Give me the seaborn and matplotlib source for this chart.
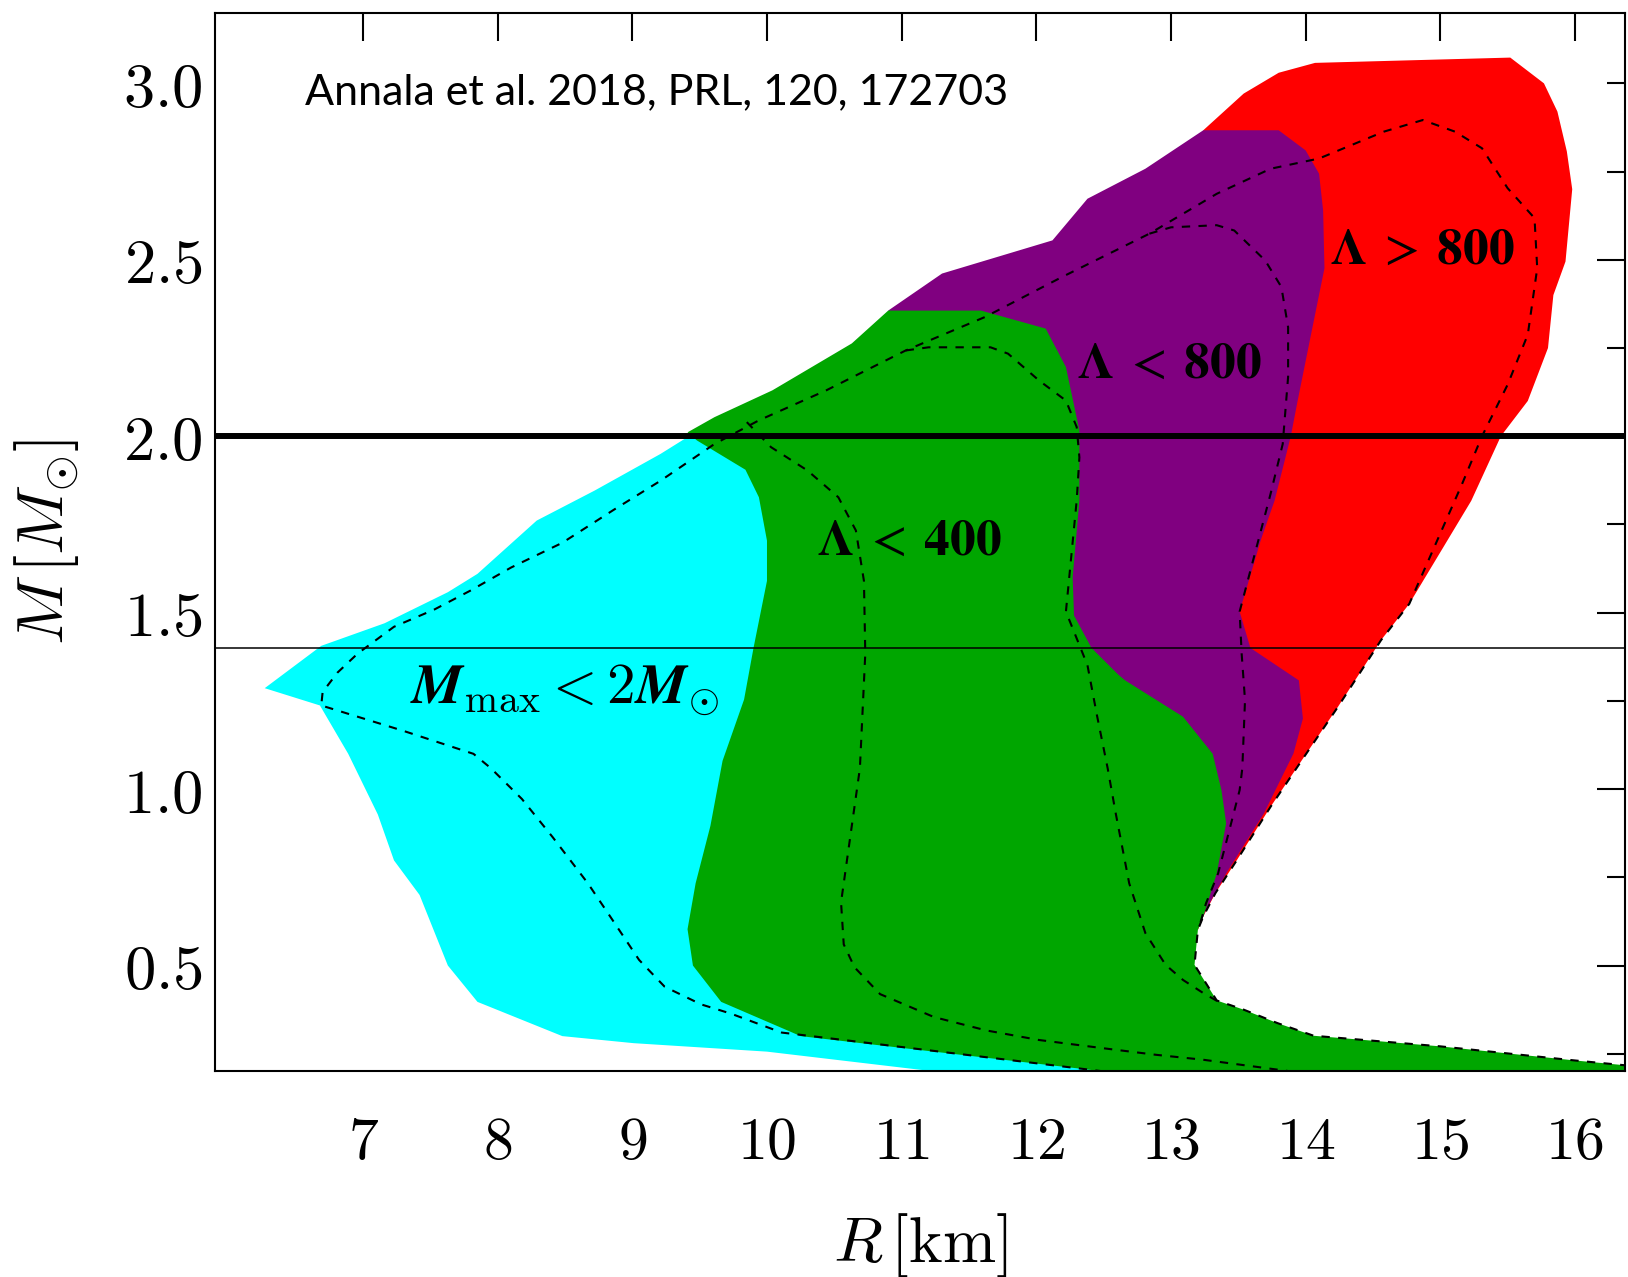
import numpy as np
import pandas as pd
import matplotlib
matplotlib.use("Agg")
import matplotlib.pyplot as plt
import seaborn as sns

# ---------------- data ----------------
x_ticks = [7, 8, 9, 10, 11, 12, 13, 14, 15, 16]
y_major = [0.5, 1.0, 1.5, 2.0, 2.5, 3.0]
y_minor = [0.25, 0.75, 1.25, 1.75, 2.25, 2.75]

# cyan region (M_max < 2 M_sun)
cyan_R = [6.27, 6.69, 7.16, 7.63, 7.85, 8.29, 8.72, 9.21, 9.42, 10.5, 10.5, 12.5,
          11.24, 10.0, 9.01, 8.48, 7.85, 7.63, 7.42, 7.23, 7.11, 6.89, 6.68]
cyan_M = [1.286, 1.406, 1.47, 1.558, 1.61, 1.761, 1.846, 1.95, 2.0, 1.9, 0.35, 0.2,
          0.2, 0.256, 0.28, 0.30, 0.397, 0.50, 0.70, 0.798, 0.928, 1.10, 1.237]

# red region (Lambda > 800)
red_R = [13.2, 13.24, 13.33, 13.49, 13.74, 13.99, 14.24, 14.56, 14.77, 15.23, 15.45,
         15.65, 15.80, 15.84, 15.93, 15.98, 15.94, 15.87, 15.77, 15.52, 14.07, 13.80,
         13.54, 13.24, 13.0, 13.0]
red_M = [0.601, 0.639, 0.705, 0.799, 0.95, 1.092, 1.233, 1.422, 1.525, 1.817, 2.0,
         2.10, 2.25, 2.40, 2.495, 2.70, 2.807, 2.92, 3.0, 3.073, 3.058, 3.03,
         2.971, 2.867, 2.0, 0.9]

# purple region (Lambda < 800)
purple_R = [10.90, 11.30, 12.12, 12.38, 12.81, 13.24, 13.80, 14.0, 14.10, 14.13,
            14.14, 14.04, 13.94, 13.89, 13.77, 13.67, 13.51, 13.59, 13.95, 13.98,
            13.91, 13.69, 13.41, 13.26, 13.21, 13.0, 12.0, 11.5]
purple_M = [2.356, 2.461, 2.555, 2.673, 2.758, 2.867, 2.867, 2.81, 2.744, 2.64,
            2.476, 2.288, 2.099, 2.0, 1.818, 1.709, 1.503, 1.40, 1.308, 1.2,
            1.101, 0.931, 0.761, 0.658, 0.61, 0.8, 1.4, 2.2]

# green region (Lambda < 400)
green_R = [9.41, 9.61, 10.04, 10.63, 10.90, 11.59, 12.07, 12.22, 12.32, 12.32, 12.27,
           12.28, 12.41, 12.61, 12.66, 13.09, 13.31, 13.375, 13.41, 13.34, 13.24,
           13.2, 13.175, 13.34, 13.54, 13.79, 14.06, 15.0, 16.0, 16.6, 16.6, 12.5,
           10.25, 9.66, 9.45, 9.41, 9.47, 9.58, 9.67, 9.83, 9.90, 10.0, 10.0,
           9.94, 9.84, 9.48]
green_M = [2.011, 2.054, 2.13, 2.263, 2.356, 2.356, 2.305, 2.196, 2.016, 1.818, 1.60,
           1.492, 1.40, 1.324, 1.308, 1.205, 1.10, 0.997, 0.903, 0.761, 0.639,
           0.601, 0.502, 0.401, 0.375, 0.337, 0.301, 0.271, 0.231, 0.209, 0.2, 0.2,
           0.30, 0.397, 0.50, 0.603, 0.733, 0.896, 1.08, 1.254, 1.40, 1.59, 1.704,
           1.827, 1.905, 1.988]

# dashed envelope curves
env_R = [12.5, 10.33, 10.11, 9.73, 9.51, 9.24, 9.05, 8.86, 8.67, 8.41, 8.18, 7.95,
         7.82, 7.30, 6.69, 6.70, 6.81, 6.96, 7.23, 7.53, 7.80, 8.10, 8.48, 8.86,
         9.21, 9.61, 9.94, 10.44, 11.03, 11.62, 12.19, 12.84, 13.34, 13.74, 14.10,
         14.58, 14.87, 15.11, 15.31, 15.50, 15.70, 15.72, 15.65, 15.50, 15.31,
         15.16, 14.77, 14.56, 14.24, 13.99, 13.74, 13.49, 13.33, 13.24, 13.2,
         13.175, 13.34, 13.54, 13.79, 14.06, 15.0, 16.0, 16.6]
env_M = [0.2, 0.30, 0.31, 0.364, 0.39, 0.44, 0.516, 0.625, 0.733, 0.863, 0.972, 1.059,
         1.10, 1.165, 1.237, 1.275, 1.33, 1.384, 1.46, 1.509, 1.563, 1.628, 1.698,
         1.791, 1.874, 1.978, 2.045, 2.13, 2.243, 2.338, 2.451, 2.574, 2.687, 2.758,
         2.787, 2.863, 2.896, 2.863, 2.816, 2.703, 2.618, 2.476, 2.288, 2.146, 2.0,
         1.863, 1.525, 1.422, 1.233, 1.092, 0.95, 0.799, 0.705, 0.639, 0.601,
         0.502, 0.401, 0.375, 0.337, 0.301, 0.271, 0.231, 0.209]

l400_R = [9.85, 10.03, 10.30, 10.53, 10.66, 10.72, 10.73, 10.69, 10.61, 10.55, 10.57,
          10.65, 10.84, 11.24, 11.63, 12.02, 12.49, 12.89, 13.24, 13.89]
l400_M = [2.04, 1.969, 1.903, 1.827, 1.733, 1.59, 1.384, 1.059, 0.842, 0.679, 0.56,
          0.495, 0.419, 0.354, 0.316, 0.289, 0.266, 0.247, 0.233, 0.2]

c400_R = [11.03, 11.2, 11.66, 11.79, 12.02, 12.22, 12.30, 12.32, 12.30, 12.22, 12.38,
          12.45, 12.53, 12.59, 12.69, 12.81, 12.96, 13.09, 13.24, 13.35]
c400_M = [2.243, 2.252, 2.252, 2.234, 2.158, 2.101, 2.026, 1.94, 1.818, 1.503, 1.351,
          1.21, 1.059, 0.931, 0.733, 0.592, 0.502, 0.459, 0.422, 0.398]

c800_R = [12.84, 13.0, 13.34, 13.47, 13.70, 13.82, 13.87, 13.87, 13.83, 13.74, 13.51,
          13.525, 13.55, 13.53, 13.51, 13.44, 13.35, 13.26, 13.21]
c800_M = [2.574, 2.592, 2.598, 2.583, 2.498, 2.423, 2.309, 2.168, 1.978, 1.837, 1.503,
          1.384, 1.252, 1.059, 0.997, 0.893, 0.761, 0.676, 0.61]

ref_lines = [2.0, 1.4]

# ---------------- style ----------------
sns.set_theme(style="white")
plt.rcParams["font.family"] = ["DejaVu Sans"]
plt.rcParams["mathtext.fontset"] = "cm"
plt.rcParams["axes.unicode_minus"] = False
for k in ["text.color", "axes.labelcolor", "xtick.color", "ytick.color", "axes.edgecolor"]:
    plt.rcParams[k] = "black"

fig = plt.figure(figsize=(16.28, 12.77), dpi=100)
ax = fig.add_axes([0.132, 0.161, 0.866, 0.829])

for xs, ys, col in [(cyan_R, cyan_M, "#00FFFF"),
                    (red_R, red_M, "#FF0000"),
                    (purple_R, purple_M, "#800080"),
                    (green_R, green_M, "#00A600")]:
    ax.fill(xs, ys, color=col, lw=0, zorder=1)

dash = (0, (4, 4))
for xs, ys in [(env_R, env_M), (l400_R, l400_M), (c400_R, c400_M), (c800_R, c800_M)]:
    df = pd.DataFrame({"R": xs, "M": ys})
    sns.lineplot(data=df, x="R", y="M", sort=False, estimator=None, ax=ax,
                 color="black", lw=1.5, linestyle=dash, zorder=3)

ax.axhline(ref_lines[0], color="black", lw=4.3, zorder=4)
ax.axhline(ref_lines[1], color="black", lw=1.1, zorder=4)

ax.set_xlim(5.9, 16.37)
ax.set_ylim(0.2, 3.2)

ax.set_xticks(x_ticks)
ax.set_xticklabels([f"${v}$" for v in x_ticks])
ax.set_yticks(y_major)
ax.set_yticklabels([f"${v:.1f}$" for v in y_major])
ax.set_yticks(y_minor, minor=True)

ax.tick_params(axis="both", which="both", direction="in", top=True, right=True,
               colors="black", width=1.5)
ax.tick_params(axis="x", which="major", length=20, labelsize=43, pad=30)
ax.tick_params(axis="y", which="major", length=20, labelsize=45, pad=9)
ax.tick_params(axis="y", which="minor", length=13)
# the 3.0 tick is drawn short in the reference
t30 = ax.yaxis.get_major_ticks()[-1]
t30.tick1line.set_markersize(13)
t30.tick2line.set_markersize(13)

for s in ax.spines.values():
    s.set_color("black")
    s.set_linewidth(1.5)

ax.set_xlabel(r"$R\,[\mathrm{km}]$", fontsize=46, labelpad=28)
ax.set_ylabel(r"$M\,[M_{\odot}]$", fontsize=47, labelpad=30)

ax.text(6.57, 2.976, "Annala et al. 2018, PRL, 120, 172703", family=["Lato", "DejaVu Sans"],
        fontsize=31, ha="left", va="center", zorder=5)
lam_kw = dict(fontsize=37, ha="left", va="center", zorder=5, math_fontfamily="stix")
ax.text(14.18, 2.529, r"$\mathbf{\Lambda}\;>\;\mathbf{800}$", **lam_kw)
ax.text(12.30, 2.205, r"$\mathbf{\Lambda}\;<\;\mathbf{800}$", **lam_kw)
ax.text(10.37, 1.704, r"$\mathbf{\Lambda}\;<\;\mathbf{400}$", **lam_kw)
ax.text(7.35, 1.28, r"$\mathbfit{M}_{\mathrm{max}} < \mathbf{2}\mathbfit{M}_{\odot}$",
        fontsize=41, ha="left", va="center", zorder=5)

fig.savefig("out.png", dpi=100)
